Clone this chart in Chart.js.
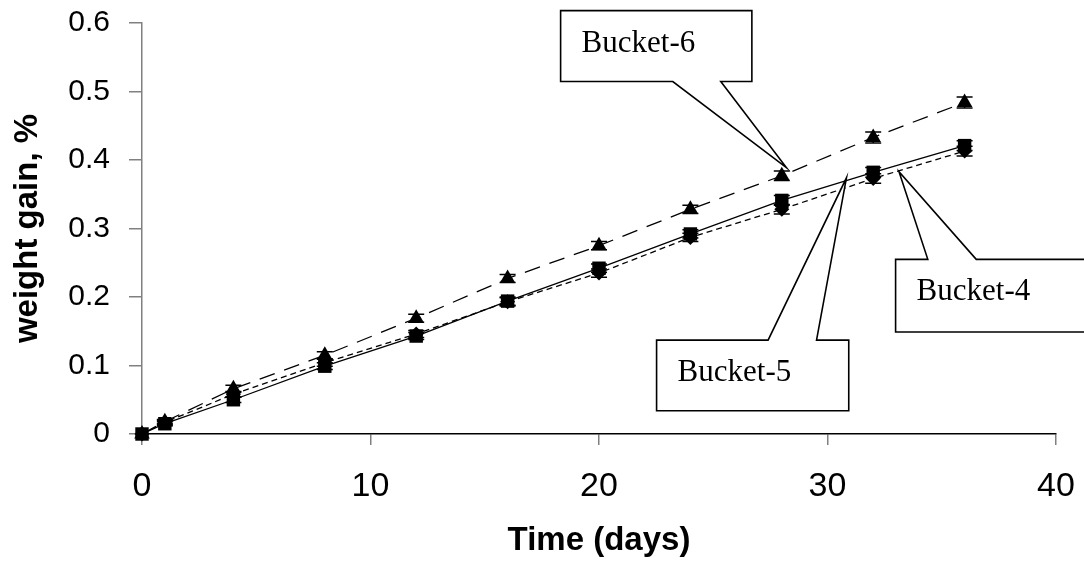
<!DOCTYPE html>
<html>
<head>
<meta charset="utf-8">
<script src="https://cdn.jsdelivr.net/npm/chart.js@4.4.0/dist/chart.umd.min.js"></script>
<style>
  html, body { margin: 0; padding: 0; background: #fff; }
  #wrap { width: 1084px; height: 565px; }
</style>
</head>
<body>
<div id="wrap"><canvas id="weightChart" width="1084" height="565"></canvas></div>
<script>
// sampling days
var days = [0, 1, 4, 8, 12, 16, 20, 24, 28, 32, 36];

// weight gain, %
var bucket4 = [0, 0.017, 0.058, 0.104, 0.146, 0.193, 0.235, 0.287, 0.328, 0.373, 0.413];
var bucket5 = [0, 0.015, 0.050, 0.099, 0.143, 0.194, 0.242, 0.292, 0.341, 0.382, 0.421];
var bucket6 = [0, 0.018, 0.066, 0.115, 0.169, 0.227, 0.275, 0.328, 0.377, 0.433, 0.484];

// error bar half-heights
var err4 = [0, 0.003, 0.004, 0.005, 0.005, 0.006, 0.006, 0.006, 0.007, 0.007, 0.007];
var err5 = [0, 0.003, 0.004, 0.005, 0.005, 0.006, 0.006, 0.006, 0.007, 0.007, 0.007];
var err6 = [0, 0.003, 0.005, 0.005, 0.006, 0.006, 0.006, 0.006, 0.007, 0.008, 0.008];

var xTicks = [0, 10, 20, 30, 40];
var yTicks = [0, 0.1, 0.2, 0.3, 0.4, 0.5, 0.6];

// callout labels and where their pointers go (data units)
var calloutText = ['Bucket-6', 'Bucket-5', 'Bucket-4'];
var calloutTip = [[28.2, 0.389], [30.83, 0.374], [33.13, 0.383]];

function pts(ys) {
    return days.map(function (d, i) { return { x: d, y: ys[i] }; });
}

// callout box geometry, in data units: [x1, x2, yTop, yBottom], pointer base x's, side
var calloutBox = [
    { box: [18.32, 26.69, 0.618, 0.5146], base: [23.23, 25.33], side: 'bottom' },
    { box: [22.52, 30.93, 0.137, 0.034], base: [27.40, 29.52], side: 'top' },
    { box: [32.98, 41.6, 0.255, 0.149], base: [34.39, 36.51], side: 'top' }
];

const errorBars = {
    id: 'errorBars',
    afterDatasetsDraw: function (chart) {
        var ctx = chart.ctx;
        var ys = chart.scales.y;
        var errs = [err6, err5, err4];
        ctx.save();
        ctx.strokeStyle = '#000';
        ctx.lineWidth = 1.5;
        chart.data.datasets.forEach(function (ds, di) {
            var meta = chart.getDatasetMeta(di);
            meta.data.forEach(function (pt, i) {
                var e = errs[di][i];
                if (!e) return;
                var v = ds.data[i].y;
                var top = ys.getPixelForValue(v + e);
                var bot = ys.getPixelForValue(v - e);
                ctx.beginPath();
                ctx.moveTo(pt.x, top); ctx.lineTo(pt.x, bot);
                ctx.moveTo(pt.x - 8, top); ctx.lineTo(pt.x + 8, top);
                ctx.moveTo(pt.x - 8, bot); ctx.lineTo(pt.x + 8, bot);
                ctx.stroke();
            });
        });
        ctx.restore();
    }
};

const callouts = {
    id: 'callouts',
    afterDraw: function (chart) {
        var ctx = chart.ctx;
        var xs = chart.scales.x, ys = chart.scales.y;
        ctx.save();
        ctx.lineWidth = 1.6;
        ctx.strokeStyle = '#000';
        calloutBox.forEach(function (c, k) {
            var l = xs.getPixelForValue(c.box[0]);
            var r = xs.getPixelForValue(c.box[1]);
            var t = ys.getPixelForValue(c.box[2]);
            var b = ys.getPixelForValue(c.box[3]);
            var b1 = xs.getPixelForValue(c.base[0]);
            var b2 = xs.getPixelForValue(c.base[1]);
            var tx = xs.getPixelForValue(calloutTip[k][0]);
            var ty = ys.getPixelForValue(calloutTip[k][1]);
            ctx.beginPath();
            if (c.side === 'bottom') {
                ctx.moveTo(l, t); ctx.lineTo(r, t); ctx.lineTo(r, b);
                ctx.lineTo(b2, b); ctx.lineTo(tx, ty); ctx.lineTo(b1, b);
                ctx.lineTo(l, b);
            } else {
                ctx.moveTo(l, t); ctx.lineTo(b1, t); ctx.lineTo(tx, ty);
                ctx.lineTo(b2, t); ctx.lineTo(r, t); ctx.lineTo(r, b);
                ctx.lineTo(l, b);
            }
            ctx.closePath();
            ctx.fillStyle = '#fff';
            ctx.fill();
            ctx.stroke();
            ctx.fillStyle = '#000';
            ctx.font = '31px "Liberation Serif"';
            ctx.textBaseline = 'alphabetic';
            ctx.fillText(calloutText[k], l + 21, t + 41);
        });
        ctx.restore();
    }
};

const dt = {
    datasets: [{
        label: 'Bucket-6',
        data: pts(bucket6),
        borderColor: '#000',
        backgroundColor: '#000',
        borderWidth: 1.3,
        borderDash: [16, 10],
        pointStyle: 'triangle',
        pointRadius: 9,
        pointBorderWidth: 0
    }, {
        label: 'Bucket-5',
        data: pts(bucket5),
        borderColor: '#000',
        backgroundColor: '#000',
        borderWidth: 1.3,
        pointStyle: 'rect',
        pointRadius: 9.5,
        pointBorderWidth: 0
    }, {
        label: 'Bucket-4',
        data: pts(bucket4),
        borderColor: '#000',
        backgroundColor: '#000',
        borderWidth: 1.3,
        borderDash: [6, 4],
        pointStyle: 'rectRot',
        pointRadius: 7.5,
        pointBorderWidth: 0
    }]
};

const config_weight = {
    type: 'line',
    data: dt,
    plugins: [errorBars, callouts],
    options: {
        responsive: false,
        animation: false,
        clip: false,
        layout: { padding: { top: 23, right: 28, bottom: 0, left: 0 } },
        plugins: { legend: { display: false }, tooltip: { enabled: false } },
        scales: {
            x: {
                type: 'linear',
                min: 0, max: 40,
                afterFit: function (s) {
                    s.height = 131;
                    s.paddingLeft = 0; s.paddingRight = 0;
                },
                afterBuildTicks: function (s) { s.ticks = xTicks.map(function (v) { return { value: v }; }); },
                border: { display: true, color: '#000', width: 1.5 },
                grid: { drawOnChartArea: false, drawTicks: true, tickLength: 11, color: '#808080', lineWidth: 1.5 },
                ticks: { padding: 21, color: '#000', font: { family: '"Liberation Sans", Arial', size: 34 } },
                title: {
                    display: true, text: 'Time (days)', color: '#000',
                    font: { family: '"Liberation Sans", Arial', size: 33, weight: 'bold' },
                    padding: { top: 0, bottom: 4 }
                }
            },
            y: {
                type: 'linear',
                min: 0, max: 0.6,
                afterFit: function (s) {
                    s.width = 142;
                    s.paddingTop = 0; s.paddingBottom = 0;
                },
                afterBuildTicks: function (s) { s.ticks = yTicks.map(function (v) { return { value: v }; }); },
                border: { display: true, color: '#808080', width: 1.5 },
                grid: { drawOnChartArea: false, drawTicks: true, tickLength: 13, color: '#808080', lineWidth: 1.5 },
                ticks: {
                    padding: 19, color: '#000',
                    font: { family: '"Liberation Sans", Arial', size: 30 },
                    callback: function (v) { return v === 0 ? '0' : v.toFixed(1); }
                },
                title: {
                    display: true, text: 'weight gain, %', color: '#000',
                    font: { family: '"Liberation Sans", Arial', size: 33, weight: 'bold' },
                    padding: { top: 8, bottom: 0 }
                }
            }
        }
    }
};

const weightChart = new Chart(
    document.getElementById('weightChart'),
    config_weight
);
</script>
</body>
</html>
